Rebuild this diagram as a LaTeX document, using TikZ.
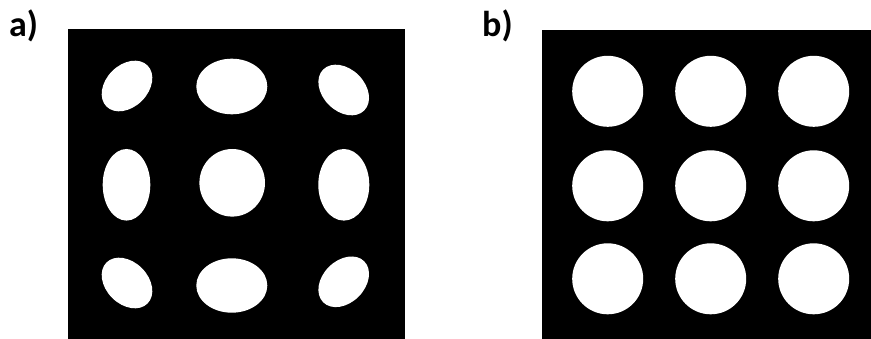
\documentclass[tikz,border=0pt]{standalone}
\usepackage{fontspec}
\setmainfont{Carlito}
\begin{document}
\begin{tikzpicture}[x=1pt,y=-1pt,
  panel/.style={fill=black},
  spot/.style={fill=white},
  lbl/.style={anchor=base west,inner sep=0pt,font=\fontsize{36}{40}\selectfont\bfseries}]
\useasboundingbox (0,0) rectangle (871,339);
% panel a
\fill[panel] (67.5,29.5) rectangle (404.5,339);
\fill[spot] (127,86)    ellipse [x radius=29pt, y radius=21pt, rotate=45];
\fill[spot] (231.8,86.5) ellipse [x radius=35.5pt, y radius=27.8pt];
\fill[spot] (343.7,90)  ellipse [x radius=29pt, y radius=21pt, rotate=-45];
\fill[spot] (126.5,184.8) ellipse [x radius=23.8pt, y radius=35.8pt];
\fill[spot] (232.2,182.8) ellipse [x radius=32.8pt, y radius=33.8pt];
\fill[spot] (343.8,184.8) ellipse [x radius=25.5pt, y radius=35.8pt];
\fill[spot] (127,283)   ellipse [x radius=29pt, y radius=21pt, rotate=-45];
\fill[spot] (231.8,285.5) ellipse [x radius=35.5pt, y radius=27.2pt];
\fill[spot] (343.7,281.8) ellipse [x radius=29pt, y radius=21pt, rotate=45];
% panel b
\fill[panel] (541.5,30) rectangle (871,339);
\foreach \cx in {607.7,710.7,813.7}{
  \foreach \cy in {91.3,185.8,278.8}{
    \fill[spot] (\cx,\cy) circle [radius=35.5pt];
  }
}
\node[lbl] (la) at (9,37) {a)};
\node[lbl] (lb) at (482,37) {b)};
\end{tikzpicture}
\end{document}
